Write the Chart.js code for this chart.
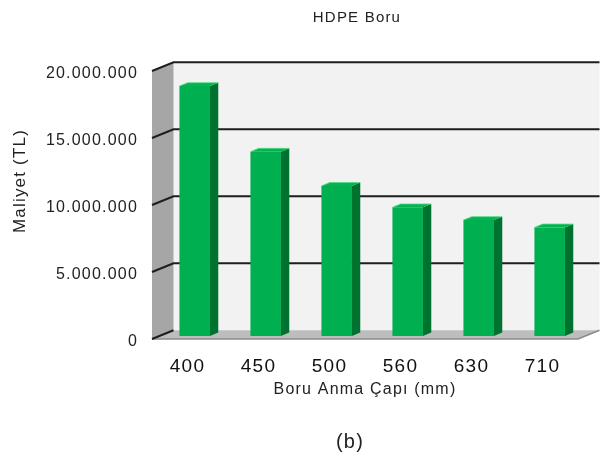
<!DOCTYPE html>
<html>
<head>
<meta charset="utf-8">
<script src="https://cdn.jsdelivr.net/npm/chart.js@4/dist/chart.umd.min.js"></script>
<style>
  html, body { margin: 0; padding: 0; background: #ffffff; }
  canvas { display: block; }
</style>
</head>
<body>
<canvas id="chart" width="600" height="457"></canvas>
<script>
// Pipe diameters and total cost per diameter
const categories = ['400', '450', '500', '560', '630', '710'];
const costs = [18650000, 13750000, 11200000, 9600000, 8650000, 8100000];
const yTickValues = [0, 5000000, 10000000, 15000000, 20000000];

const chartTitle = 'HDPE Boru';
const xAxisTitle = 'Boru Anma Çapı (mm)';
const yAxisTitle = 'Maliyet (TL)';
const caption = '(b)';

// Perspective offsets for the walls/floor and for the columns
const WALL_DX = 21.5, WALL_DY = -8.8;
const BAR_SHIFT_X = 7.2, BAR_SHIFT_Y = -3.0;
const BAR_DX = 8.3, BAR_DY = -3.4;

const FONT = "'Liberation Sans', Arial, sans-serif";

function thousands(v) {
  return String(v).replace(/\B(?=(\d{3})+(?!\d))/g, '.');
}

function poly(ctx, pts, fill) {
  ctx.beginPath();
  ctx.moveTo(pts[0][0], pts[0][1]);
  for (let i = 1; i < pts.length; i++) ctx.lineTo(pts[i][0], pts[i][1]);
  ctx.closePath();
  ctx.fillStyle = fill;
  ctx.fill();
}

const depthPlugin = {
  id: 'depth',
  beforeDraw(chart) {
    const ctx = chart.ctx;
    ctx.letterSpacing = '1.2px';
    const { left, right, top, bottom } = chart.chartArea;
    const ys = chart.scales.y;

    ctx.save();
    // back wall
    poly(ctx, [[left + WALL_DX, top + WALL_DY], [right + WALL_DX, top + WALL_DY],
               [right + WALL_DX, bottom + WALL_DY], [left + WALL_DX, bottom + WALL_DY]], '#f2f2f2');
    // left side wall
    poly(ctx, [[left, top], [left + WALL_DX, top + WALL_DY],
               [left + WALL_DX, bottom + WALL_DY], [left, bottom]], '#a6a6a6');
    // floor
    poly(ctx, [[left, bottom], [left + WALL_DX, bottom + WALL_DY],
               [right + WALL_DX, bottom + WALL_DY], [right, bottom]], '#bdbdbd');
    // floor front edge
    ctx.strokeStyle = '#8a8a8a';
    ctx.lineWidth = 1.5;
    ctx.beginPath();
    ctx.moveTo(left, bottom);
    ctx.lineTo(right, bottom);
    ctx.lineTo(right + WALL_DX, bottom + WALL_DY);
    ctx.stroke();

    // grid lines on side wall and back wall
    ctx.strokeStyle = '#1e1e1e';
    ctx.lineWidth = 2;
    ctx.lineCap = 'butt';
    yTickValues.forEach(v => {
      const y = ys.getPixelForValue(v);
      ctx.beginPath();
      ctx.moveTo(left, y);
      ctx.lineTo(left + WALL_DX, y + WALL_DY);
      if (v !== 0) ctx.lineTo(right + WALL_DX, y + WALL_DY);
      ctx.stroke();
    });
    ctx.restore();
  },
  beforeDatasetsDraw(chart) {
    chart.ctx.save();
    chart.ctx.translate(BAR_SHIFT_X, BAR_SHIFT_Y);
  },
  afterDatasetsDraw(chart) {
    const ctx = chart.ctx;
    const meta = chart.getDatasetMeta(0);
    meta.data.forEach(bar => {
      const { x, y, base, width } = bar.getProps(['x', 'y', 'base', 'width'], true);
      const l = x - width / 2, r = x + width / 2;
      // side face
      poly(ctx, [[r, y], [r + BAR_DX, y + BAR_DY], [r + BAR_DX, base + BAR_DY], [r, base]], '#00722f');
      // top face
      poly(ctx, [[l, y], [l + BAR_DX, y + BAR_DY], [r + BAR_DX, y + BAR_DY], [r, y]], '#06b253');
      ctx.strokeStyle = 'rgba(80,220,130,0.8)';
      ctx.lineWidth = 1;
      ctx.beginPath();
      ctx.moveTo(l, y);
      ctx.lineTo(l + BAR_DX, y + BAR_DY);
      ctx.lineTo(r + BAR_DX, y + BAR_DY);
      ctx.stroke();
    });
    ctx.restore();
  },
  afterDraw(chart) {
    const ctx = chart.ctx;
    ctx.save();
    ctx.letterSpacing = '1.2px';
    ctx.fillStyle = '#222222';
    ctx.textAlign = 'center';
    ctx.textBaseline = 'middle';

    ctx.font = '15px ' + FONT;
    ctx.fillText(chartTitle, 357, 18);

    ctx.font = '20px ' + FONT;
    ctx.fillText(caption, 350, 442);

    ctx.font = '17px ' + FONT;
    ctx.translate(20, 181);
    ctx.rotate(-Math.PI / 2);
    ctx.fillText(yAxisTitle, 0, 0);
    ctx.restore();
  }
};

new Chart(document.getElementById('chart'), {
  type: 'bar',
  data: {
    labels: categories,
    datasets: [{
      data: costs,
      backgroundColor: '#00b050',
      borderWidth: 0,
      categoryPercentage: 1.0,
      barPercentage: 0.43,
      clip: false
    }]
  },
  options: {
    responsive: false,
    animation: false,
    events: [],
    layout: { padding: { left: 0, right: 22, top: 71, bottom: 0 } },
    plugins: {
      legend: { display: false },
      tooltip: { enabled: false },
      title: { display: false }
    },
    scales: {
      y: {
        min: 0,
        max: 20000000,
        afterBuildTicks: s => { s.ticks = yTickValues.map(v => ({ value: v })); },
        afterFit: s => { s.width = 152; },
        grid: { display: false, drawTicks: false },
        border: { display: false },
        ticks: {
          padding: 14,
          labelOffset: 3,
          color: '#222222',
          font: { family: FONT, size: 16 },
          callback: v => thousands(v)
        }
      },
      x: {
        afterFit: s => { s.height = 118; },
        grid: { display: false, drawTicks: false },
        border: { display: false },
        ticks: {
          padding: 16,
          color: '#111111',
          font: { family: FONT, size: 19 }
        },
        title: {
          display: true,
          text: xAxisTitle,
          color: '#222222',
          font: { family: FONT, size: 16 },
          padding: { top: 0, bottom: 58 }
        }
      }
    }
  },
  plugins: [depthPlugin]
});
</script>
</body>
</html>
